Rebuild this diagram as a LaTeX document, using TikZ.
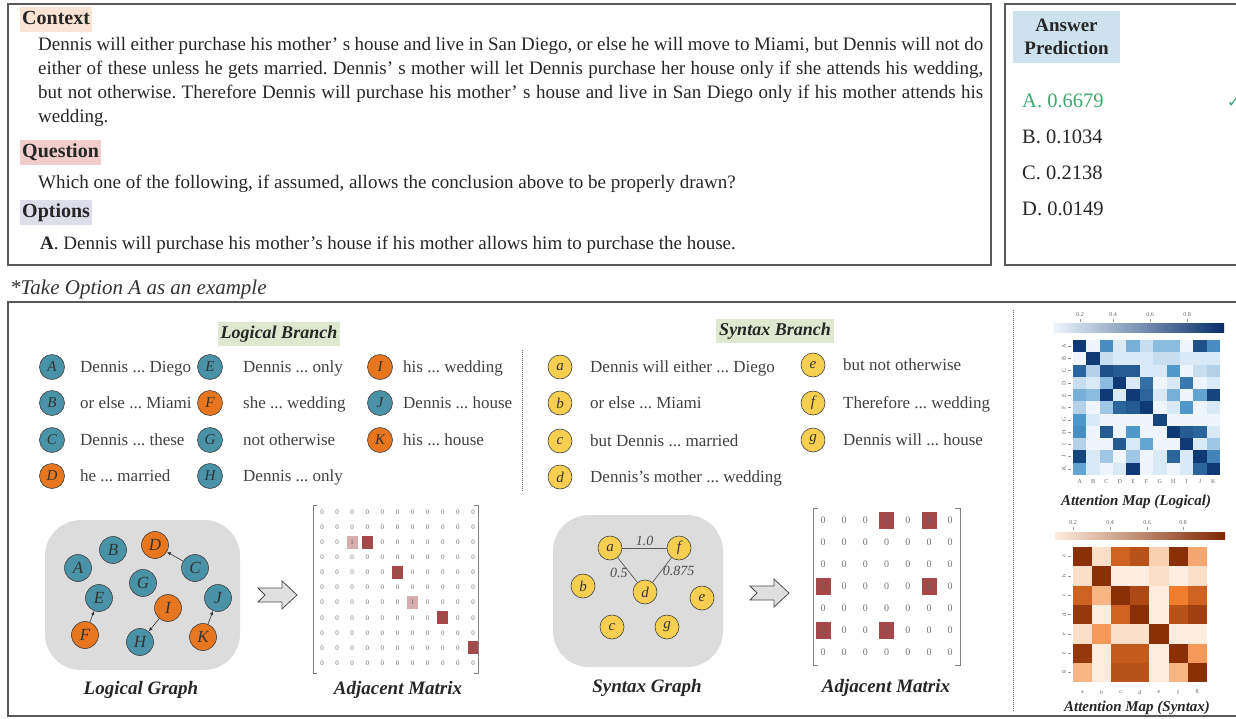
\documentclass[tikz,border=0pt]{standalone}
\usepackage{fontspec}
\setmainfont{Liberation Serif}
\newfontfamily\symbfont{DejaVu Sans}
\usetikzlibrary{arrows.meta,positioning}
\frenchspacing

\definecolor{logblue}{RGB}{74,146,168}
\definecolor{logorange}{RGB}{232,118,30}
\definecolor{synyellow}{RGB}{247,207,80}
\definecolor{ctxpeach}{RGB}{251,228,212}
\definecolor{qpink}{RGB}{243,205,205}
\definecolor{optlav}{RGB}{222,222,235}
\definecolor{anshead}{RGB}{205,226,236}
\definecolor{brgreen}{RGB}{222,232,208}
\definecolor{graphgray}{RGB}{220,220,220}
\definecolor{okgreen}{RGB}{58,170,112}
\definecolor{cellred}{RGB}{165,72,72}
\definecolor{bluelo}{RGB}{238,245,252}
\definecolor{bluemid}{RGB}{80,152,204}
\definecolor{bluehi}{RGB}{8,48,107}
\definecolor{orglo}{RGB}{254,237,222}
\definecolor{orgmid}{RGB}{240,125,45}
\definecolor{orghi}{RGB}{127,39,4}

\newcommand{\fsz}[2]{\fontsize{#1}{#2}\selectfont}

\begin{document}
\begin{tikzpicture}[
    x=1pt,y=-1pt,
    >={Latex[length=4pt,width=3.5pt]},
    frame/.style={draw=black!65,line width=1.6pt},
    heading/.style={anchor=base west,inner xsep=2pt,inner ysep=3pt,
        text height=14pt,text depth=5pt,font=\fsz{20}{24}\bfseries,text=black!85},
    body/.style={anchor=base west,inner sep=0pt,font=\fsz{19}{24},text=black!85},
    branch/.style={anchor=base,fill=brgreen,inner xsep=3pt,inner ysep=4pt,
        font=\fsz{18}{22}\bfseries\itshape,text=black!85},
    graphlabel/.style={anchor=base,inner sep=0pt,font=\fsz{19}{22}\bfseries\itshape,text=black!85},
    maplabel/.style={anchor=base,inner sep=0pt,font=\fsz{15}{18}\bfseries\itshape,text=black!85},
    unit/.style={circle,draw=black!75,line width=0.6pt,inner sep=0pt,
        minimum size=25pt,font=\fsz{15}{18}\itshape,text=black!80},
    unittext/.style={anchor=base west,inner sep=0pt,font=\fsz{17}{20},text=black!75},
    gnode/.style={unit,minimum size=27pt,font=\fsz{17}{18}\itshape},
    snode/.style={unit,fill=synyellow,minimum size=24pt},
    graphbg/.style={fill=graphgray,rounded corners=36pt},
    edge/.style={draw=black!65,line width=0.7pt},
    elabel/.style={inner sep=1.5pt,font=\fsz{14}{16}\itshape,text=black!70},
    fatarr/.style={fill=black!12,draw=black!70,line width=0.8pt,line join=miter},
    lzero/.style={inner sep=0pt,font=\fsz{7}{8},text=black!55},
    lone/.style={inner sep=0pt,minimum width=11pt,minimum height=13pt,font=\fsz{7}{8},text=black!60},
    szero/.style={inner sep=0pt,font=\fsz{10}{12},text=black!55},
    sone/.style={inner sep=0pt,fill=cellred,minimum width=15pt,minimum height=17pt,
        font=\fsz{10}{12},text=black!60},
    bracket/.style={draw=black!50,line width=0.7pt},
    ticklabel/.style={inner sep=0pt,font=\fsz{6}{7},text=black!60}
  ]
    \useasboundingbox (0,0) rectangle (1236,718);

    % question part
    \draw[frame] (8,4) rectangle (991,265);
    \draw[frame] (1005,4) rectangle (1250,265);

    \node[heading,fill=ctxpeach] (ctx) at (20,24) {Context};
    \node[body] (ctx1) at (38,50) {\makebox[945pt][s]{Dennis will either purchase his mother' s house and live in San Diego, or else he will move to Miami, but Dennis will not do}};
    \node[body] (ctx2) at (38,74) {\makebox[945pt][s]{either of these unless he gets married. Dennis' s mother will let Dennis purchase her house only if she attends his wedding,}};
    \node[body] (ctx3) at (38,98) {\makebox[945pt][s]{but not otherwise. Therefore Dennis will purchase his mother' s house and live in San Diego only if his mother attends his}};
    \node[body] (ctx4) at (38,122) {wedding.};

    \node[heading,fill=qpink] (qst) at (20,157) {Question};
    \node[body] (qst1) at (38,188) {Which one of the following, if assumed, allows the conclusion above to be properly drawn?};
    \node[heading,fill=optlav] (opt) at (20,217) {Options};
    \node[body] (opt1) at (40,249) {\textbf{A}. Dennis will purchase his mother's house if his mother allows him to purchase the house.};

    % answer prediction
    \node[fill=anshead,minimum width=107pt,minimum height=52pt,align=center,
        font=\fsz{19}{23}\bfseries,text=black!85] (ans) at (1066.5,37) {Answer\\Prediction};
    \node[body,font=\fsz{20.5}{24},text=okgreen] (pa) at (1022,107) {A.\ 0.6679};
    \node[body,font=\fsz{20.5}{24}] (pb) at (1022,143) {B.\ 0.1034};
    \node[body,font=\fsz{20.5}{24}] (pc) at (1022,179) {C.\ 0.2138};
    \node[body,font=\fsz{20.5}{24}] (pd) at (1022,215) {D.\ 0.0149};
    \node[anchor=base west,inner sep=0pt,text=okgreen,font=\symbfont\fsz{16}{18}] (ok) at (1227,107) {✓};

    % reasoning part
    \node[anchor=base west,inner sep=0pt,font=\fsz{21}{24}\itshape,text=black!80] (note) at (10,294) {*Take Option A as an example};
    \draw[frame] (8,302) rectangle (1250,716);
    \node[branch] (lbr) at (279,338) {Logical Branch};
    \node[branch] (sbr) at (775,335) {Syntax Branch};
    \draw[black!60,line width=0.9pt,dash pattern=on 1pt off 1pt] (522,350) -- (522,492);
    \draw[black!60,line width=0.9pt,dash pattern=on 1pt off 1pt] (1013,310) -- (1013,712);

    % logical units
    \foreach \n/\c/\x/\tx/\y/\t in {A/logblue/52/80/367/{Dennis ... Diego},
        B/logblue/52/80/403/{or else ... Miami},C/logblue/52/80/440/{Dennis ... these},
        D/logorange/52/80/476/{he ... married},E/logblue/210/243/367/{Dennis ... only},
        F/logorange/210/243/403/{she ... wedding},G/logblue/210/243/440/{not otherwise},
        H/logblue/210/243/476/{Dennis ... only},I/logorange/380/403/367/{his ... wedding},
        J/logblue/380/403/403/{Dennis ... house},K/logorange/380/403/440/{his ... house}}{
      \node[unit,fill=\c] (u\n) at (\x,\y) {\n};
      \node[unittext] (t\n) at (\tx,\y+5.5) {\t};
    }

    % syntax units
    \foreach \n/\x/\tx/\y/\t in {a/560/590/367/{Dennis will either ... Diego},
        b/560/590/403/{or else ... Miami},c/560/590/441/{but Dennis ... married},
        d/560/590/477/{Dennis's mother ... wedding},e/813/843/365/{but not otherwise},
        f/813/843/403/{Therefore ... wedding},g/813/843/440/{Dennis will ... house}}{
      \node[snode] (u\n) at (\x,\y) {\n};
      \node[unittext] (t\n) at (\tx,\y+5.5) {\t};
    }

    % logical graph
    \fill[graphbg] (45,520) rectangle (240,670);
    \node[gnode,fill=logblue] (gA) at (78,568) {A};
    \node[gnode,fill=logblue] (gB) at (113,550) {B};
    \node[gnode,fill=logorange] (gD) at (155,545) {D};
    \node[gnode,fill=logblue] (gC) at (195,568) {C};
    \node[gnode,fill=logblue] (gG) at (143,583) {G};
    \node[gnode,fill=logblue] (gE) at (99,598) {E};
    \node[gnode,fill=logorange] (gI) at (168,608) {I};
    \node[gnode,fill=logblue] (gJ) at (218,598) {J};
    \node[gnode,fill=logorange] (gF) at (85,635) {F};
    \node[gnode,fill=logblue] (gH) at (140,642) {H};
    \node[gnode,fill=logorange] (gK) at (203,637) {K};
    \draw[->,black!80,line width=0.6pt] (gC) -- (gD);
    \draw[->,black!80,line width=0.6pt] (gF) -- (gE);
    \draw[->,black!80,line width=0.6pt] (gI) -- (gH);
    \draw[->,black!80,line width=0.6pt] (gK) -- (gJ);
    \node[graphlabel] (lgl) at (141,694) {Logical Graph};

    \draw[fatarr] (258,588) -- (282,588) -- (282,581) -- (297,595) -- (282,609)
        -- (282,602) -- (258,602) -- (265,595) -- cycle;

    % logical adjacency matrix
    \foreach \r in {0,...,10}
      \foreach \c in {0,...,10}
        \node[lzero] (lm-\r-\c) at ({322+15.1*\c},{512+15.1*\r}) {0};
    \foreach \r/\c/\s in {2/2/45,2/3/100,4/5/100,6/6/45,7/8/100,9/10/100}
      \node[lone,fill=cellred!\s!white] (lh-\r-\c) at (lm-\r-\c) {1};
    \draw[bracket] (317,505) -- (313,505) -- (313,673) -- (317,673);
    \draw[bracket] (474,505) -- (478,505) -- (478,673) -- (474,673);
    \node[graphlabel] (lml) at (398,694) {Adjacent Matrix};

    % syntax graph
    \fill[graphbg] (553,515) rectangle (723,667);
    \node[snode] (sa) at (610,548) {a};
    \node[snode] (sf) at (679,548) {f};
    \node[snode] (sb) at (583,586) {b};
    \node[snode] (sd) at (645,592) {d};
    \node[snode] (se) at (702,598) {e};
    \node[snode] (sc) at (612,627) {c};
    \node[snode] (sg) at (667,627) {g};
    \draw[edge] (sa) -- node[above,elabel] (w1) {1.0} (sf);
    \draw[edge] (sa) -- node[left,elabel,pos=0.6] (w2) {0.5} (sd);
    \draw[edge] (sf) -- node[right,elabel,pos=0.55] (w3) {0.875} (sd);
    \node[graphlabel] (sgl) at (647,692) {Syntax Graph};

    \draw[fatarr,shift={(492,-2)}] (258,588) -- (282,588) -- (282,581) -- (297,595) -- (282,609)
        -- (282,602) -- (258,602) -- (265,595) -- cycle;

    % syntax adjacency matrix
    \foreach \r in {0,...,6}
      \foreach \c in {0,...,6}
        \node[szero] (sm-\r-\c) at ({823+21.2*\c},{520+22*\r}) {0};
    \foreach \r/\c in {0/3,0/5,3/0,3/5,5/0,5/3}
      \node[sone] (sh-\r-\c) at (sm-\r-\c) {1};
    \draw[bracket] (818,508) -- (813,508) -- (813,665) -- (818,665);
    \draw[bracket] (955,508) -- (960,508) -- (960,665) -- (955,665);
    \node[graphlabel] (sml) at (886,692) {Adjacent Matrix};

    % attention map (logical)
    \shade[left color=bluelo,middle color=bluemid,right color=bluehi] (1053,323) rectangle (1224,332);
    \foreach \v/\x in {0.2/1080,0.4/1113,0.6/1150,0.8/1187}{
      \node[ticklabel] (lt\x) at (\x,315) {\v};
      \draw[black!40,line width=0.3pt] (\x,319) -- (\x,322);
    }
    \foreach \row [count=\r from 0] in {
        {0.95,0.10,0.55,0.15,0.40,0.20,0.35,0.35,0.10,0.85,0.55},
        {0.10,0.95,0.20,0.15,0.15,0.15,0.20,0.20,0.15,0.15,0.15},
        {0.75,0.25,0.85,0.80,0.80,0.15,0.15,0.50,0.10,0.20,0.25},
        {0.20,0.15,0.35,0.95,0.15,0.70,0.10,0.15,0.65,0.10,0.15},
        {0.40,0.35,0.95,0.15,0.95,0.75,0.15,0.40,0.10,0.45,0.90},
        {0.25,0.10,0.30,0.75,0.80,0.95,0.10,0.15,0.50,0.10,0.15},
        {0.50,0.15,0.10,0.10,0.10,0.10,0.90,0.10,0.10,0.10,0.10},
        {0.55,0.10,0.80,0.10,0.50,0.10,0.10,0.95,0.80,0.75,0.15},
        {0.25,0.10,0.10,0.80,0.15,0.45,0.10,0.10,0.95,0.15,0.30},
        {0.90,0.15,0.30,0.10,0.30,0.10,0.15,0.75,0.15,0.95,0.60},
        {0.45,0.15,0.10,0.15,0.95,0.10,0.15,0.10,0.15,0.75,0.95}}{
      \foreach \v [count=\c from 0] in \row {
        \pgfmathsetmacro\lo{max(0,min(100,250*\v-25))}
        \pgfmathsetmacro\hi{max(0,200*\v-100)}
        \ifdim\v pt<0.5pt \colorlet{cellc}{bluemid!\lo!bluelo}\else\colorlet{cellc}{bluehi!\hi!bluemid}\fi
        \fill[cellc] ({1073+13.36*\c},{340+12.27*\r}) rectangle ++(13.36,12.27);
      }
    }
    \foreach \l [count=\i from 0] in {A,B,C,D,E,F,G,H,I,J,K}{
      \node[ticklabel] (lc\l) at ({1079.7+13.36*\i},482) {\l};
      \node[ticklabel,rotate=90] (lr\l) at (1064,{346.1+12.27*\i}) {\l};
      \draw[black!40,line width=0.3pt] (1068,{346.1+12.27*\i}) -- (1071,{346.1+12.27*\i});
    }
    \node[maplabel] (lmap) at (1136,505) {Attention Map (Logical)};

    % attention map (syntax)
    \shade[left color=orglo,middle color=orgmid,right color=orghi] (1055,532) rectangle (1225,539);
    \foreach \v/\x in {0.2/1073,0.4/1110,0.6/1147,0.8/1183}{
      \node[ticklabel] (st\x) at (\x,523) {\v};
      \draw[black!40,line width=0.3pt] (\x,527) -- (\x,530);
    }
    \foreach \row [count=\r from 0] in {
        {0.95,0.15,0.65,0.75,0.20,0.95,0.35},
        {0.15,0.95,0.10,0.10,0.15,0.10,0.15},
        {0.65,0.30,0.95,0.80,0.10,0.50,0.65},
        {0.90,0.10,0.65,0.95,0.10,0.75,0.85},
        {0.15,0.40,0.15,0.15,0.95,0.10,0.10},
        {0.90,0.10,0.70,0.70,0.10,0.95,0.40},
        {0.30,0.10,0.75,0.75,0.10,0.30,0.95}}{
      \foreach \v [count=\c from 0] in \row {
        \pgfmathsetmacro\lo{max(0,min(100,250*\v-25))}
        \pgfmathsetmacro\hi{max(0,200*\v-100)}
        \ifdim\v pt<0.5pt \colorlet{cellc}{orgmid!\lo!orglo}\else\colorlet{cellc}{orghi!\hi!orgmid}\fi
        \fill[cellc] ({1073+19.1*\c},{547+19.3*\r}) rectangle ++(19.1,19.3);
      }
    }
    \foreach \l [count=\i from 0] in {a,b,c,d,e,f,g}{
      \node[ticklabel] (sc\l) at ({1082.5+19.1*\i},692) {\l};
      \node[ticklabel,rotate=90] (sr\l) at (1064,{556.6+19.3*\i}) {\l};
      \draw[black!40,line width=0.3pt] (1068,{556.6+19.3*\i}) -- (1071,{556.6+19.3*\i});
    }
    \node[maplabel] (smap) at (1137,711) {Attention Map (Syntax)};
\end{tikzpicture}
\end{document}
